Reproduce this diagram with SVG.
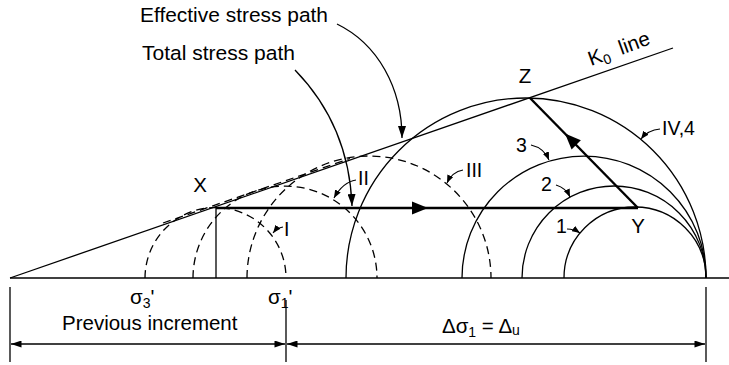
<svg xmlns="http://www.w3.org/2000/svg" width="729" height="365" viewBox="0 0 729 365">
<style>
.ln{fill:none;stroke:#000;stroke-width:1.3}
.th{fill:none;stroke:#000;stroke-width:2.4}
.ds{fill:none;stroke:#000;stroke-width:1.3;stroke-dasharray:8 5}
.ld{fill:none;stroke:#000;stroke-width:1.1;marker-end:url(#sa)}
.t{font-family:"Liberation Sans",Arial,sans-serif;font-size:20.5px;fill:#000}
.s{font-family:"Liberation Sans",Arial,sans-serif;font-size:19.5px;fill:#000}
</style>
<defs>
<marker id="sa" viewBox="0 0 10 8" refX="10" refY="4" markerWidth="8" markerHeight="6.4" markerUnits="userSpaceOnUse" orient="auto"><path d="M0,0 L10,4 L0,8 Z" fill="#000"/></marker>
<marker id="la" viewBox="0 0 12 8" refX="12" refY="4" markerWidth="12" markerHeight="8" markerUnits="userSpaceOnUse" orient="auto"><path d="M0,0 L12,4 L0,8 Z" fill="#000"/></marker>
<marker id="da" viewBox="0 0 12 8" refX="12" refY="4" markerWidth="12" markerHeight="7" markerUnits="userSpaceOnUse" orient="auto-start-reverse"><path d="M0,0 L12,4 L0,8 Z" fill="#000"/></marker>
<path id="big" d="M0,0 L-16,-6.5 L-16,6.5 Z" fill="#000"/>
</defs>

<g id="axis">
<line class="ln" x1="10" y1="278" x2="729" y2="278"/>
</g>

<g id="k0-line">
<line class="ln" x1="10" y1="278" x2="673" y2="48"/>
<text class="t" transform="translate(591,66) rotate(-20)">K<tspan font-size="14" dy="4">0</tspan><tspan dy="-4" dx="11">line</tspan></text>
</g>

<g id="effective-circles">
<path id="circle-I" class="ds" d="M145,278 A70.5,70.5 0 0 1 286,278"/>
<path id="circle-II" class="ds" d="M193,278 A92,92 0 0 1 377,278"/>
<path id="circle-III" class="ds" d="M247,278 A122,122 0 0 1 491,278"/>
<path id="eff-path" class="ds" d="M163,223 L350,158.5"/>
</g>

<g id="total-circles">
<path id="circle-IV4" class="ln" d="M346,278 A180,180 0 0 1 706,278"/>
<path id="circle-3" class="ln" d="M462,278 A122,122 0 0 1 706,278"/>
<path id="circle-2" class="ln" d="M522,278 A92,92 0 0 1 706,278"/>
<path id="circle-1" class="ln" d="M564,278 A71,71 0 0 1 706,278"/>
</g>

<g id="stress-paths">
<line class="ln" x1="216" y1="208" x2="216" y2="278"/>
<line class="th" x1="216" y1="208" x2="638" y2="208"/>
<use href="#big" transform="translate(428,208)"/>
<line class="th" x1="638" y1="208" x2="530" y2="98"/>
<use href="#big" transform="translate(565,133.5) rotate(-134.5)"/>
</g>

<g id="points">
<text class="t" x="200" y="192" text-anchor="middle">X</text>
<text class="t" x="525" y="83" text-anchor="middle">Z</text>
<text class="t" x="638" y="233" text-anchor="middle">Y</text>
</g>

<g id="connectors">
<path class="ln" d="M337,24 C378,44 402,88 402,138" marker-end="url(#la)"/>
<path class="ln" d="M295,70 C330,106 350,150 352,206" marker-end="url(#la)"/>
<path class="ld" d="M283,227 Q277,228 273,233"/>
<path class="ld" d="M356,180 Q343,182 334,198"/>
<path class="ld" d="M463,170 Q452,172 447,183"/>
<path class="ld" d="M531,145 Q544,148 549,160"/>
<path class="ld" d="M556,185 Q566,188 570,197"/>
<path class="ld" d="M567,229 Q574,229 580,233"/>
<path class="ld" d="M660,129 Q648,130 641,139"/>
</g>

<g id="labels">
<text class="t" x="140" y="22" textLength="188" lengthAdjust="spacingAndGlyphs">Effective stress path</text>
<text class="t" x="142" y="60" textLength="153" lengthAdjust="spacingAndGlyphs">Total stress path</text>
<text class="s" x="284" y="236">I</text>
<text class="s" x="358" y="185">II</text>
<text class="s" x="466" y="177">III</text>
<text class="s" x="516" y="152">3</text>
<text class="s" x="541" y="191">2</text>
<text class="s" x="556" y="233">1</text>
<text class="s" x="662" y="135">IV,4</text>
<text class="t" x="130" y="304">σ<tspan font-size="14" dy="4">3</tspan><tspan dy="-4">'</tspan></text>
<text class="t" x="268" y="304">σ<tspan font-size="14" dy="4">1</tspan><tspan dy="-4">'</tspan></text>
</g>

<g id="dimensions">
<line class="ln" x1="10" y1="287" x2="10" y2="362"/>
<line class="ln" x1="286" y1="300" x2="286" y2="362"/>
<line class="ln" x1="706" y1="287" x2="706" y2="362"/>
<line class="ln" x1="11" y1="344" x2="285" y2="344" marker-start="url(#da)" marker-end="url(#da)"/>
<line class="ln" x1="287" y1="344" x2="705" y2="344" marker-start="url(#da)" marker-end="url(#da)"/>
<text class="t" x="62" y="330">Previous increment</text>
<text class="t" x="442" y="333">Δσ<tspan font-size="14" dy="4">1</tspan><tspan dy="-4">  = Δ</tspan><tspan font-size="14" dy="2">u</tspan></text>
</g>
</svg>
